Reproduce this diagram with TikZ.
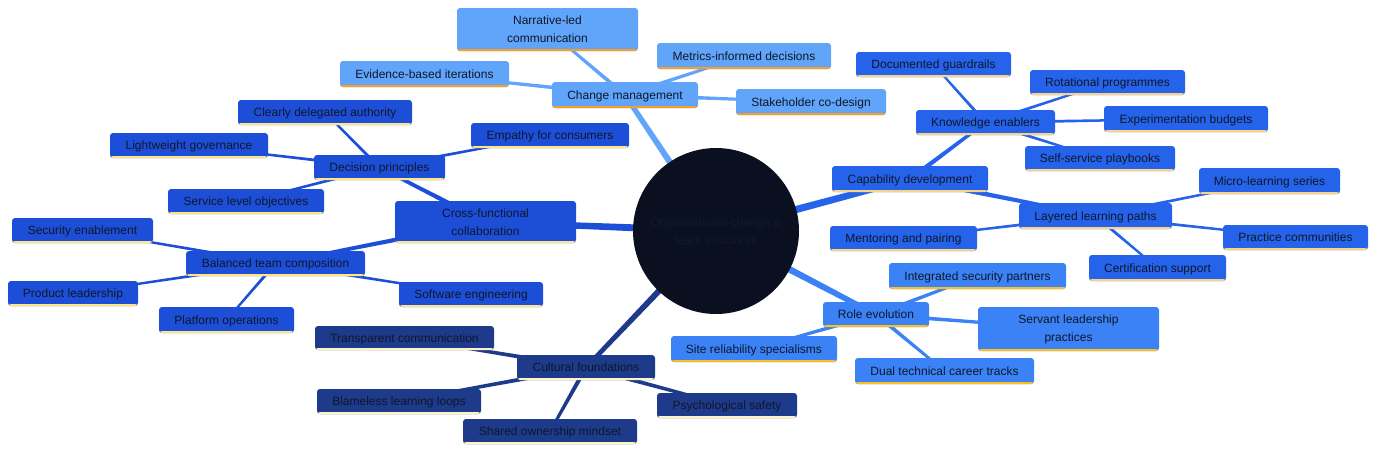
\documentclass[tikz,border=0pt]{standalone}
\usepackage{fontspec}
\setmainfont{Liberation Sans}
\usetikzlibrary{calc,backgrounds}
\definecolor{cmfill}{HTML}{60A5FA}
\definecolor{cmul}{HTML}{F59E2B}
\definecolor{cffill}{HTML}{1D4ED8}
\definecolor{cful}{HTML}{FDE68A}
\definecolor{capfill}{HTML}{2563EB}
\definecolor{capul}{HTML}{F8D488}
\definecolor{rofill}{HTML}{3B82F6}
\definecolor{roul}{HTML}{FBBF24}
\definecolor{cufill}{HTML}{1E3A8A}
\definecolor{cuul}{HTML}{FEF3C7}
\definecolor{ctr}{HTML}{0A1020}
\definecolor{ctrtext}{HTML}{131A2C}
\definecolor{txt}{HTML}{0F172A}
\tikzset{
  box/.style={rectangle, rounded corners=3pt, inner sep=0pt, align=center,
    font=\fontsize{12}{18}\selectfont, text=txt, text height=8.5pt, text depth=0pt},
  twoline/.style={text height={}, text depth={}},
  ul/.style={path picture={\fill[#1] ([yshift=2pt]path picture bounding box.south west) rectangle (path picture bounding box.south east);}},
  bcm/.style={box, fill=cmfill, ul=cmul},
  bcf/.style={box, fill=cffill, ul=cful},
  bcap/.style={box, fill=capfill, ul=capul},
  bro/.style={box, fill=rofill, ul=roul},
  bcu/.style={box, fill=cufill, ul=cuul},
  hub/.style={circle, fill=ctr, minimum size=166pt, inner sep=0pt, align=center,
    text=ctrtext, font=\fontsize{12}{18}\selectfont}
}
% #1 style, #2 name, #3 centre, #4 width, #5 height, #6 text
\newcommand\bx[6]{\node[#1, minimum width=#4pt, minimum height=#5pt] (#2) at (#3) {#6};}
% tapered connector: #1 parent, #2 child, #3 half width at parent, #4 half width at child, #5 colour
\newcommand\taper[5]{\fill[#5] ($(#1)!#3!90:(#2)$) -- ($(#2)!#4!-90:(#1)$) -- ($(#2)!#4!90:(#1)$) -- ($(#1)!#3!-90:(#2)$) -- cycle;}
\begin{document}
\begin{tikzpicture}[x=1pt,y=-1pt]
\useasboundingbox (0,0) rectangle (1384,456);
% centre
\node[hub] (c) at (716,231) {Organisational change \&\\team structures};
% Change management branch
\bx{bcm,twoline}{narr}{547.5,29.5}{181}{43}{Narrative-led\\communication}
\bx{bcm}{metr}{744,56}{174}{26}{Metrics-informed decisions}
\bx{bcm}{evid}{424.5,74}{169}{26}{Evidence-based iterations}
\bx{bcm}{chg}{625,95}{146}{26}{Change management}
\bx{bcm}{stake}{811,102}{150}{26}{Stakeholder co-design}
% Cross-functional branch
\bx{bcf}{deleg}{325,112.5}{174}{25}{Clearly delegated authority}
\bx{bcf}{emp}{550,135.5}{158}{25}{Empathy for consumers}
\bx{bcf}{light}{189,145.5}{158}{25}{Lightweight governance}
\bx{bcf}{dec}{379.5,167.5}{131}{25}{Decision principles}
\bx{bcf}{slo}{246,201.5}{156}{25}{Service level objectives}
\bx{bcf,twoline}{cross}{485.5,222}{181}{42}{Cross-functional\\collaboration}
\bx{bcf}{sec}{82.5,230.5}{141}{25}{Security enablement}
\bx{bcf}{bal}{275.5,263.5}{179}{25}{Balanced team composition}
\bx{bcf}{prod}{73,293.5}{130}{25}{Product leadership}
\bx{bcf}{soft}{471,294.5}{144}{25}{Software engineering}
\bx{bcf}{plat}{226.5,320}{135}{26}{Platform operations}
% Cultural branch
\bx{bcu}{transp}{404.5,338}{179}{24}{Transparent communication}
\bx{bcu}{cult}{586,367.5}{138}{25}{Cultural foundations}
\bx{bcu}{blame}{399,401.5}{164}{25}{Blameless learning loops}
\bx{bcu}{psych}{727,405.5}{140}{25}{Psychological safety}
\bx{bcu}{shared}{550,431.5}{174}{25}{Shared ownership mindset}
% Capability branch
\bx{bcap}{doc}{933.5,64.5}{155}{25}{Documented guardrails}
\bx{bcap}{rot}{1107.5,82.5}{155}{25}{Rotational programmes}
\bx{bcap}{know}{985.5,122.5}{139}{25}{Knowledge enablers}
\bx{bcap}{exp}{1186,119}{164}{26}{Experimentation budgets}
\bx{bcap}{self}{1100,158.5}{150}{25}{Self-service playbooks}
\bx{bcap}{capd}{910,179}{156}{26}{Capability development}
\bx{bcap}{micro}{1269.5,181}{141}{26}{Micro-learning series}
\bx{bcap}{layer}{1095.5,216}{153}{26}{Layered learning paths}
\bx{bcap}{mentor}{903.5,238.5}{147}{25}{Mentoring and pairing}
\bx{bcap}{pract}{1295.5,237.5}{145}{25}{Practice communities}
\bx{bcap}{cert}{1157.5,268}{137}{26}{Certification support}
% Role branch
\bx{bro}{integ}{977.5,276}{177}{26}{Integrated security partners}
\bx{bro}{role}{876,314.5}{106}{25}{Role evolution}
\bx{bro,twoline}{serv}{1068.5,329}{181}{44}{Servant leadership\\practices}
\bx{bro}{site}{754,349}{166}{26}{Site reliability specialisms}
\bx{bro}{dual}{944.5,371}{179}{26}{Dual technical career tracks}
% connectors
\begin{pgfonlayer}{background}
\taper{c}{chg}{3.6pt}{2.5pt}{cmfill}
\taper{c}{cross}{3.8pt}{2.8pt}{cffill}
\taper{c}{capd}{4pt}{3pt}{capfill}
\taper{c}{role}{3.8pt}{2.6pt}{rofill}
\taper{c}{cult}{3.6pt}{2.2pt}{cufill}
\taper{chg}{narr}{2pt}{1.3pt}{cmfill}
\taper{chg}{metr}{2pt}{1.2pt}{cmfill}
\taper{chg}{evid}{2pt}{1.3pt}{cmfill}
\taper{chg}{stake}{2pt}{1.3pt}{cmfill}
\taper{cross}{dec}{2.5pt}{1.6pt}{cffill}
\taper{cross}{bal}{2.5pt}{1.6pt}{cffill}
\taper{dec}{deleg}{1.6pt}{1pt}{cffill}
\taper{dec}{emp}{1.6pt}{1pt}{cffill}
\taper{dec}{light}{1.6pt}{1pt}{cffill}
\taper{dec}{slo}{1.6pt}{1pt}{cffill}
\taper{bal}{sec}{1.6pt}{1pt}{cffill}
\taper{bal}{prod}{1.6pt}{1pt}{cffill}
\taper{bal}{soft}{1.6pt}{1pt}{cffill}
\taper{bal}{plat}{1.6pt}{1pt}{cffill}
\taper{cult}{transp}{2.2pt}{1.4pt}{cufill}
\taper{cult}{blame}{2.2pt}{1.4pt}{cufill}
\taper{cult}{psych}{2.2pt}{1.4pt}{cufill}
\taper{cult}{shared}{2.2pt}{1.4pt}{cufill}
\taper{capd}{know}{2.4pt}{1.5pt}{capfill}
\taper{capd}{layer}{2.6pt}{1.6pt}{capfill}
\taper{know}{doc}{1.6pt}{1pt}{capfill}
\taper{know}{rot}{1.6pt}{1pt}{capfill}
\taper{know}{exp}{1.6pt}{1pt}{capfill}
\taper{know}{self}{1.6pt}{1pt}{capfill}
\taper{layer}{micro}{1.6pt}{1pt}{capfill}
\taper{layer}{mentor}{1.6pt}{1pt}{capfill}
\taper{layer}{pract}{1.6pt}{1pt}{capfill}
\taper{layer}{cert}{1.6pt}{1pt}{capfill}
\taper{role}{integ}{2pt}{1.3pt}{rofill}
\taper{role}{serv}{2pt}{1.3pt}{rofill}
\taper{role}{site}{2pt}{1.3pt}{rofill}
\taper{role}{dual}{2pt}{1.3pt}{rofill}
\end{pgfonlayer}
\end{tikzpicture}
\end{document}
